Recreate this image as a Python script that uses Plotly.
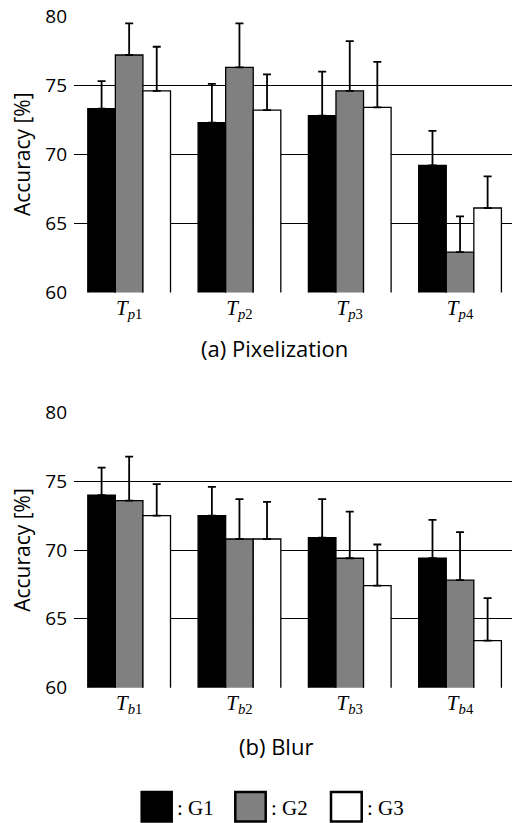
import plotly.graph_objects as go

W, H = 512, 823

pix_labels = ["<i>T</i><sub><i>p</i>1</sub>", "<i>T</i><sub><i>p</i>2</sub>",
              "<i>T</i><sub><i>p</i>3</sub>", "<i>T</i><sub><i>p</i>4</sub>"]
blur_labels = ["<i>T</i><sub><i>b</i>1</sub>", "<i>T</i><sub><i>b</i>2</sub>",
               "<i>T</i><sub><i>b</i>3</sub>", "<i>T</i><sub><i>b</i>4</sub>"]
categories = [0, 1, 2, 3]
group_names = ["G1", "G2", "G3"]

pix_g1 = [73.3, 72.3, 72.8, 69.2]
pix_g2 = [77.2, 76.3, 74.6, 62.9]
pix_g3 = [74.6, 73.2, 73.4, 66.1]
pix_g1_err = [2.0, 2.8, 3.2, 2.5]
pix_g2_err = [2.3, 3.2, 3.6, 2.6]
pix_g3_err = [3.2, 2.6, 3.3, 2.3]

blur_g1 = [74.0, 72.5, 70.9, 69.4]
blur_g2 = [73.6, 70.8, 69.4, 67.8]
blur_g3 = [72.5, 70.8, 67.4, 63.4]
blur_g1_err = [2.0, 2.1, 2.8, 2.8]
blur_g2_err = [3.2, 2.9, 3.4, 3.5]
blur_g3_err = [2.3, 2.7, 3.0, 3.1]

y_ticks = [60, 65, 70, 75, 80]

fills = ["#000000", "#808080", "#ffffff"]

fig = go.Figure()

def add_panel(vals, errs, xa, ya):
    for name, v, e, c in zip(group_names, vals, errs, fills):
        fig.add_trace(go.Bar(
            x=categories, y=v, name=name, xaxis=xa, yaxis=ya,
            marker=dict(color=c, line=dict(color="black", width=1.3)),
            error_y=dict(type="data", array=e, arrayminus=[0] * len(e),
                         symmetric=False, color="black", thickness=1.8, width=4),
            showlegend=False,
        ))

add_panel([pix_g1, pix_g2, pix_g3], [pix_g1_err, pix_g2_err, pix_g3_err], "x", "y")
add_panel([blur_g1, blur_g2, blur_g3], [blur_g1_err, blur_g2_err, blur_g3_err], "x2", "y2")

x_left = 74 / W
xr = [-0.5, -0.5 + (W - 74) / 110.3]

def py(p):
    return 1 - p / H

common_x = dict(range=xr, showgrid=False, zeroline=False, showline=False,
                ticks="", tickmode="array", tickvals=categories,
                tickfont=dict(family="Liberation Serif", size=21, color="black"),
                automargin=False, domain=[x_left, 1], fixedrange=True)
common_y = dict(range=[59.97, 80.03], tickvals=y_ticks, showgrid=True,
                gridcolor="black", gridwidth=1.3, zeroline=False, showline=False,
                ticks="", tickfont=dict(family="Open Sans", size=19, color="black"),
                ticklabelstandoff=6, automargin=False, fixedrange=True,
                title=dict(text="Accuracy [%]", font=dict(family="Open Sans", size=21, color="black"), standoff=8))

fig.update_layout(
    width=W, height=H,
    margin=dict(l=0, r=0, t=0, b=0),
    paper_bgcolor="white", plot_bgcolor="white",
    barmode="group", bargap=0.25, bargroupgap=0,
    xaxis=dict(common_x, ticktext=pix_labels, anchor="y"),
    yaxis=dict(common_y, domain=[py(292.5), py(16)], anchor="x"),
    xaxis2=dict(common_x, ticktext=blur_labels, anchor="y2"),
    yaxis2=dict(common_y, domain=[py(687.7), py(412.3)], anchor="x2"),
)

fig.add_annotation(text="(a) Pixelization", xref="paper", yref="paper",
                   x=274.4 / W, y=py(348), xanchor="center", yanchor="middle",
                   showarrow=False,
                   font=dict(family="Open Sans", size=22, color="black"))
fig.add_annotation(text="(b) Blur", xref="paper", yref="paper",
                   x=275.7 / W, y=py(746), xanchor="center", yanchor="middle",
                   showarrow=False,
                   font=dict(family="Open Sans", size=22, color="black"))

# legend swatches
legend_boxes = [(141.7, 171.7), (235.3, 265.7), (331.0, 361.7)]
for (x0, x1), c, name in zip(legend_boxes, fills, group_names):
    fig.add_shape(type="rect", xref="paper", yref="paper",
                  x0=x0 / W, x1=x1 / W, y0=py(821.5), y1=py(792),
                  fillcolor=c, line=dict(color="black", width=2.5))
    fig.add_annotation(text=": " + name, xref="paper", yref="paper",
                       x=(x1 + 3) / W, y=py(808), xanchor="left", yanchor="middle",
                       showarrow=False,
                       font=dict(family="Liberation Serif", size=21, color="black"))

fig.write_html("out.html", config={"displayModeBar": False},
               post_script="document.body.style.margin='0';document.body.style.overflow='hidden';")
